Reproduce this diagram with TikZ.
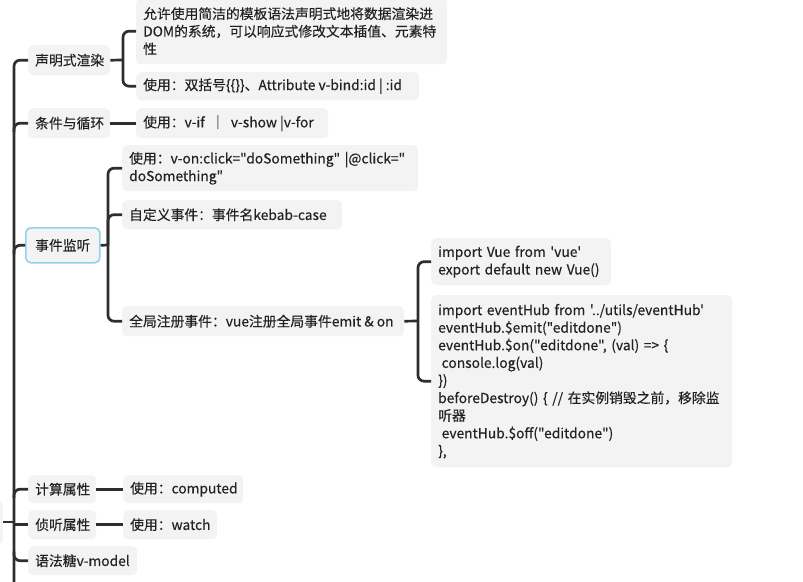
\documentclass[tikz,border=0pt]{standalone}
\usepackage{fontspec}
\newfontfamily\cjk{Noto Sans CJK SC}[FakeBold=0.3]
\usetikzlibrary{calc}
\definecolor{boxgray}{HTML}{F4F3F3}
\definecolor{txt}{HTML}{222222}
\definecolor{ln}{HTML}{2E2E2E}
\definecolor{selblue}{HTML}{8ED2F0}
\newcommand\lft[2]{\makebox[#1][l]{#2}}
\begin{document}
\begin{tikzpicture}[x=1pt,y=-1pt,
  box/.style={fill=boxgray, rounded corners=5pt, inner xsep=7pt, inner ysep=0pt,
    anchor=north west, text=txt, font=\cjk\fontsize{13.8}{17.6}\selectfont},
  mbox/.style={box, align=left},
  conn/.style={draw=ln, line width=2.7pt, rounded corners=6pt}]
\useasboundingbox (0,0) rectangle (803,581);
\fill[white] (0,0) rectangle (803,581);

% root (mostly off the picture)
\node[fill=boxgray, rounded corners=5pt, minimum width=40pt, minimum height=44pt, anchor=east, inner sep=0pt] (R) at (3,522) {};

% level 1
\node[box, minimum height=30pt] (A) at (28,45) {\lft{68pt}{声明式渲染}};
\node[box, minimum height=30pt] (B) at (28,108) {\lft{68pt}{条件与循环}};
\node[box, draw=selblue, line width=1.6pt, minimum width=74pt, minimum height=35pt] (C) at (25,227) {事件监听};
\node[box, minimum height=28pt] (D) at (28,475) {\lft{54pt}{计算属性}};
\node[box, minimum height=29pt] (E) at (28,510) {\lft{54pt}{侦听属性}};
\node[box, minimum height=29pt] (F) at (28,546) {\lft{95pt}{语法糖v-model}};

% level 2
\node[mbox, text width=297pt, minimum height=66pt] (A1) at (136,-2) {\mbox{允许使用简洁的模板语法声明式地将数据渲染进}\\\mbox{DOM的系统，可以响应式修改文本插值、元素特}\\性};
\node[box, minimum height=28pt] (A2) at (136,72) {\lft{269pt}{使用：双括号\{\{\}\}、Attribute v-bind:id | :id}};
\node[box, minimum height=30pt] (B1) at (136,108) {\lft{178pt}{使用：v-if \ ｜ \ v-show |v-for}};
\node[mbox, text width=282pt, minimum height=46pt] (C1) at (122,145) {\mbox{使用：v-on:click="doSomething" |@click="}\\doSomething"};
\node[box, minimum height=29pt] (C2) at (122,200) {\lft{206pt}{自定义事件：事件名kebab-case}};
\node[box, minimum height=30pt] (C3) at (122,306) {\lft{268pt}{全局注册事件：vue注册全局事件emit \& on}};
\node[box, minimum height=28pt] (D1) at (123,475) {\lft{106pt}{使用：computed}};
\node[box, minimum height=29pt] (E1) at (123,510) {\lft{80pt}{使用：watch}};

% level 3
\node[mbox, text width=166pt, minimum height=47pt] (C3a) at (431,238) {\mbox{import Vue from 'vue'}\\\mbox{export default new Vue()}};
\node[mbox, text width=287pt, minimum height=172pt] (C3b) at (431,295) {\mbox{import eventHub from '../utils/eventHub'}\\\mbox{eventHub.\$emit("editdone")}\\\mbox{eventHub.\$on("editdone", (val) => \{}\\\hspace*{3.5pt}console.log(val)\\\})\\\mbox{beforeDestroy() \{ // 在实例销毁之前，移除监}\\听器\\\mbox{\hspace*{3.5pt}eventHub.\$off("editdone")}\\\},};

% trunk and level-1 connectors
\coordinate (tk) at (14,590);
\draw[conn] (A.west) -| (tk);
\draw[conn] (B.west) -| ($(B.west -| tk)+(0,9)$);
\draw[conn] (C.west) -| ($(C.west -| tk)+(0,9)$);
\draw[conn] (D.west) -| ($(D.west -| tk)+(0,9)$);
\draw[conn] (E.west) -- (E.west -| tk);
\draw[conn] (F.west) -| ($(F.west -| tk)+(0,-9)$);
\draw[conn] (R.east) -- (R.east -| tk);

% level-2 connectors
\coordinate (jA) at (123,60);
\draw[conn] (A.east) -- (jA);
\draw[conn] (A1.west) -| (jA);
\draw[conn] (A2.west) -| (jA);
\draw[conn] (B.east) -- (B1.west);
\coordinate (jC) at (108,245);
\draw[conn] (C.east) -- (jC);
\draw[conn] (C1.west) -| (jC);
\draw[conn] (C2.west) -| (jC);
\draw[conn] (C3.west) -| (jC);
\draw[conn] (D.east) -- (D1.west);
\draw[conn] (E.east) -- (E1.west);

% level-3 connectors
\coordinate (jD) at (418,321);
\draw[conn] (C3.east) -- (jD);
\draw[conn] (C3a.west) -| (jD);
\draw[conn] (C3b.west) -| (jD);
\end{tikzpicture}
\end{document}
